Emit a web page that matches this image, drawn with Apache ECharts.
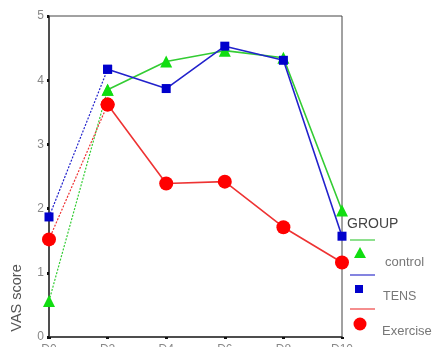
<!DOCTYPE html>
<html>
<head>
<meta charset="utf-8">
<script src="https://cdn.jsdelivr.net/npm/echarts@6/dist/echarts.min.js"></script>
<style>html,body{margin:0;padding:0;background:#fff}#c{width:434px;height:347px}</style>
</head>
<body>
<div id="c"></div>
<script>
const days = ['D0','D2','D4','D6','D8','D10'];
const control = [0.56, 3.85, 4.29, 4.46, 4.35, 1.97];
const tens = [1.87, 4.17, 3.87, 4.53, 4.31, 1.57];
const exercise = [1.52, 3.62, 2.39, 2.42, 1.71, 1.16];
const groupNames = ['control','TENS','Exercise'];

const groups = [
  {name: groupNames[0], data: control, line: '#33cc33', mark: '#11dd11', symbol: 'triangle', size: 12},
  {name: groupNames[1], data: tens, line: '#2222cc', mark: '#0000cc', symbol: 'rect', size: 9},
  {name: groupNames[2], data: exercise, line: '#ee3333', mark: '#ff0000', symbol: 'circle', size: 14}
];

const series = [];
groups.forEach(g => {
  series.push({
    type: 'line', name: g.name + ' first',
    data: g.data.map((v, i) => i <= 1 ? v : '-'),
    symbol: g.symbol, symbolSize: g.size,
    itemStyle: {color: g.mark},
    lineStyle: {color: g.line, width: 1.2, type: [2, 1.5]},
    z: 2
  });
  series.push({
    type: 'line', name: g.name,
    data: g.data.map((v, i) => i >= 1 ? v : '-'),
    symbol: g.symbol, symbolSize: g.size,
    itemStyle: {color: g.mark},
    lineStyle: {color: g.line, width: 1.6},
    z: 3
  });
});

const chart = echarts.init(document.getElementById('c'), null, {renderer: 'canvas'});
chart.setOption({
  animation: false,
  backgroundColor: '#fff',
  grid: {left: 49, top: 16, width: 293, height: 321, outerBoundsMode: 'none', containLabel: false,
         show: true, borderColor: '#444', borderWidth: 1},
  xAxis: {
    type: 'category', data: days, boundaryGap: false,
    axisLine: {lineStyle: {color: '#333', width: 1.5}},
    axisTick: {show: true, length: 2, inside: false, lineStyle: {color: '#111', width: 3}, alignWithLabel: true},
    axisLabel: {color: '#888', fontSize: 12, fontFamily: 'Liberation Sans', margin: 7},
    splitLine: {show: false}
  },
  yAxis: {
    type: 'value', min: 0, max: 5, interval: 1,
    axisLine: {show: true, lineStyle: {color: '#333', width: 1.5}},
    axisTick: {show: true, length: 2, lineStyle: {color: '#111', width: 3}},
    axisLabel: {color: '#888', fontSize: 12, fontFamily: 'Liberation Sans', margin: 5},
    splitLine: {show: false}
  },
  series: series,
  graphic: [
    {type: 'text', x: 17, y: 298, rotation: Math.PI / 2,
     style: {text: 'VAS score', fill: '#555', font: '14.5px "Liberation Sans"', textAlign: 'center', textVerticalAlign: 'middle'}},
    {type: 'text', x: 347, y: 224,
     style: {text: 'GROUP', fill: '#444', font: '14px "Liberation Sans"', textVerticalAlign: 'middle'}},
    {type: 'line', shape: {x1: 350, y1: 240, x2: 375, y2: 240}, style: {stroke: '#44cc44', lineWidth: 1.2}},
    {type: 'polygon', shape: {points: [[360, 247], [366, 258], [354, 258]]}, style: {fill: '#11dd11'}},
    {type: 'text', x: 385, y: 262,
     style: {text: groupNames[0], fill: '#777', font: '13px "Liberation Sans"', textVerticalAlign: 'middle'}},
    {type: 'line', shape: {x1: 350, y1: 275, x2: 375, y2: 275}, style: {stroke: '#3333cc', lineWidth: 1.2}},
    {type: 'rect', shape: {x: 355, y: 285, width: 8, height: 8}, style: {fill: '#0000cc'}},
    {type: 'text', x: 383, y: 297,
     style: {text: groupNames[1], fill: '#777', font: '12.5px "Liberation Sans"', textVerticalAlign: 'middle'}},
    {type: 'line', shape: {x1: 350, y1: 309, x2: 375, y2: 309}, style: {stroke: '#ee4444', lineWidth: 1.2}},
    {type: 'circle', shape: {cx: 360, cy: 324, r: 6.5}, style: {fill: '#ff0000'}},
    {type: 'text', x: 382, y: 331,
     style: {text: groupNames[2], fill: '#777', font: '13px "Liberation Sans"', textVerticalAlign: 'middle'}}
  ]
});
</script>
</body>
</html>
